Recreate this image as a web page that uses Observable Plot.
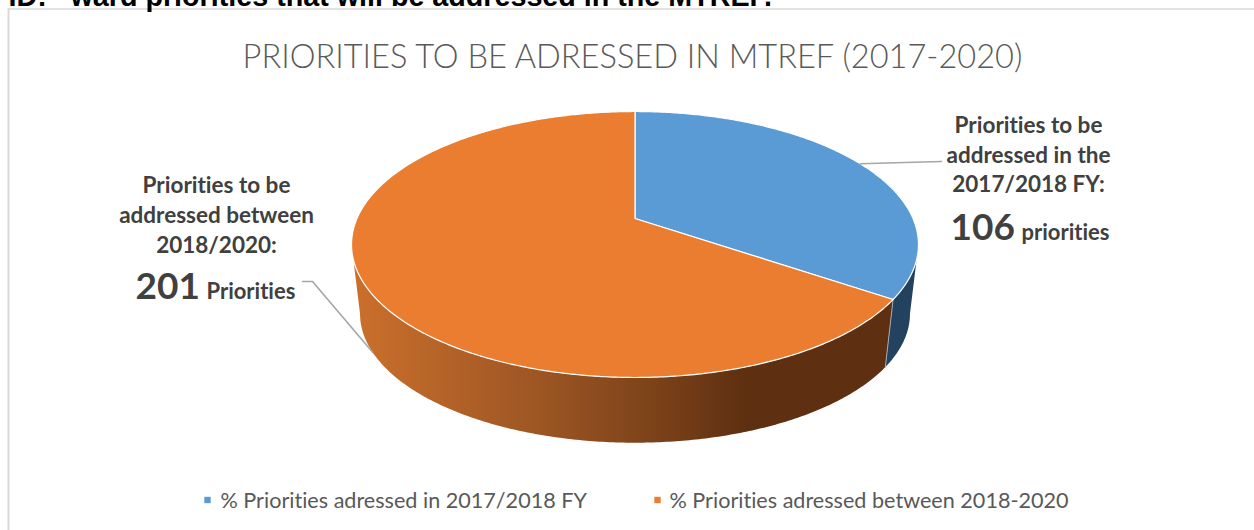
<!DOCTYPE html>
<html>
<head>
<meta charset="utf-8">
<script src="https://cdn.jsdelivr.net/npm/d3@7"></script>
<script src="https://cdn.jsdelivr.net/npm/@observablehq/plot@0.6"></script>
<style>
  html, body { margin: 0; padding: 0; background: #fff; }
  svg { display: block; font-variant-ligatures: none; }
</style>
</head>
<body>
<div id="chart"></div>
<script>
// Priorities per period
const categories = ["% Priorities adressed in 2017/2018 FY", "% Priorities adressed between 2018-2020"];
const priorities = [106, 201];
const units = ["priorities", "Priorities"];
const sliceColors = ["#5b9bd5", "#eb7d31"];
const wallColors = ["#234260", "url(#orange-wall)"];

const headingNumber = "ID:";
const heading = "ward priorities that will be addressed in the MTREF.";
const title = "PRIORITIES TO BE ADRESSED IN MTREF (2017-2020)";
const labelLines = [
  ["Priorities to be", "addressed in the", "2017/2018 FY:"],
  ["Priorities to be", "addressed between", "2018/2020:"]
];

// Tilted disc: perspective projection of a unit circle, angle clockwise from twelve o'clock
const disc = {cx: 634.5, apexY: 218, halfWidth: 278, halfDepth: 127.9, perspective: 0.1955};
const base = {scale: 0.97, apexY: 288};

function rim(theta, scale = 1, apexY = disc.apexY) {
  const u = Math.sin(theta), v = -Math.cos(theta);
  const w = 1 - disc.perspective * v;
  return {x: disc.cx + scale * disc.halfWidth * u / w, y: apexY + scale * disc.halfDepth * v / w};
}
const bottomRim = (theta) => rim(theta, base.scale, base.apexY);

function arcPoints(from, to, f = rim) {
  const n = Math.max(2, Math.ceil(Math.abs(to - from) / 0.01));
  return d3.range(n + 1).map((i) => f(from + (to - from) * i / n));
}

const slices = d3.pie().sort(null)(priorities);
const apex = {x: disc.cx, y: disc.apexY};
const tops = slices.map((s) => [apex, ...arcPoints(s.startAngle, s.endAngle)]);

// Side walls run between the disc's left and right silhouette angles
const silhouette = Math.acos(-disc.perspective);
const seam = slices[0].endAngle;
const wall = (a, b) => [...arcPoints(a, b), ...arcPoints(b, a, bottomRim)];
const walls = [wall(silhouette, seam), wall(seam, 2 * Math.PI - silhouette)];

// Leader lines start at each slice's middle angle
const midAngle = (s) => (s.startAngle + s.endAngle) / 2;
const leaders = [
  [rim(midAngle(slices[0])), {x: 941, y: 161}],
  [bottomRim(midAngle(slices[1])), {x: 312, y: 281}, {x: 302, y: 281}]
];

const gradient = () => {
  const defs = d3.create("svg:defs");
  const g = defs.append("linearGradient").attr("id", "orange-wall").attr("x1", 0).attr("x2", 1).attr("y1", 0).attr("y2", 0);
  [[0, "#cb702c"], [0.33, "#9f5724"], [0.56, "#7c4219"], [0.73, "#5e2f11"], [1, "#5e2f11"]]
    .forEach(([o, c]) => g.append("stop").attr("offset", o).attr("stop-color", c));
  return defs.node();
};

const lato = "Lato, 'Open Sans', sans-serif";
const sans = "'Liberation Sans', Arial, sans-serif";
const ink = "#404040";
const tx = (text, x, y, fontSize, fontWeight, fill, extra = {}) =>
  Plot.text([text], {x: () => x, y: () => y, text: (d) => d, fontSize, fontWeight, fill,
    fontFamily: lato, lineAnchor: "bottom", ...extra});

const chart = Plot.plot({
  width: 1254, height: 530,
  margin: 0,
  x: {domain: [0, 1254], range: [0, 1254], axis: null},
  y: {domain: [0, 530], range: [0, 530], axis: null},
  marks: [
    gradient,
    // frame of the chart area, left and top edges
    Plot.ruleX([8], {y1: 8.5, y2: 530, stroke: "#d9d9d9", strokeWidth: 2}),
    Plot.ruleY([8.5], {x1: 8, x2: 1254, stroke: "#d9d9d9", strokeWidth: 1.5}),
    tx(headingNumber, 8, 5, 28.7, 700, "#000", {textAnchor: "start", fontFamily: sans}),
    tx(heading, 70, 5, 28.7, 700, "#000", {textAnchor: "start", fontFamily: sans}),
    tx(title, 632, 67, 32.6, 300, "#595959"),

    // disc: walls first, then the top face
    ...walls.map((w, i) => Plot.line(w, {x: "x", y: "y", fill: wallColors[i], curve: "linear-closed"})),
    Plot.line([rim(seam), bottomRim(seam)], {x: "x", y: "y", stroke: "#a8a8a8", strokeWidth: 1}),
    ...tops.map((t, i) => Plot.line(t, {x: "x", y: "y", fill: sliceColors[i], stroke: "#fff", strokeWidth: 1.2, curve: "linear-closed"})),

    ...leaders.map((l) => Plot.line(l, {x: "x", y: "y", stroke: "#a6a6a6", strokeWidth: 1.6})),

    // data labels
    ...labelLines[0].map((t, i) => tx(t, 1028, 132.5 + 29.7 * i, 22.5, 700, ink)),
    tx(String(priorities[0]), 950, 239, 37, 700, ink, {textAnchor: "start"}),
    tx(units[0], 1021, 239, 22, 700, ink, {textAnchor: "start"}),
    ...labelLines[1].map((t, i) => tx(t, 216, 192.5 + 30 * i, 22.5, 700, ink)),
    tx(String(priorities[1]), 135, 298, 37, 700, ink, {textAnchor: "start"}),
    tx(units[1], 206, 298, 22, 700, ink, {textAnchor: "start"}),

    // legend
    ...categories.map((c, i) => Plot.dot([c], {x: () => [207, 657][i], y: () => 499.5, symbol: "square", r: 3.6, fill: sliceColors[i], stroke: null})),
    ...categories.map((c, i) => tx(c, [220, 669][i], 507, 21.6, 400, "#595959", {textAnchor: "start"}))
  ]
});
document.getElementById("chart").append(chart);
</script>
</body>
</html>
